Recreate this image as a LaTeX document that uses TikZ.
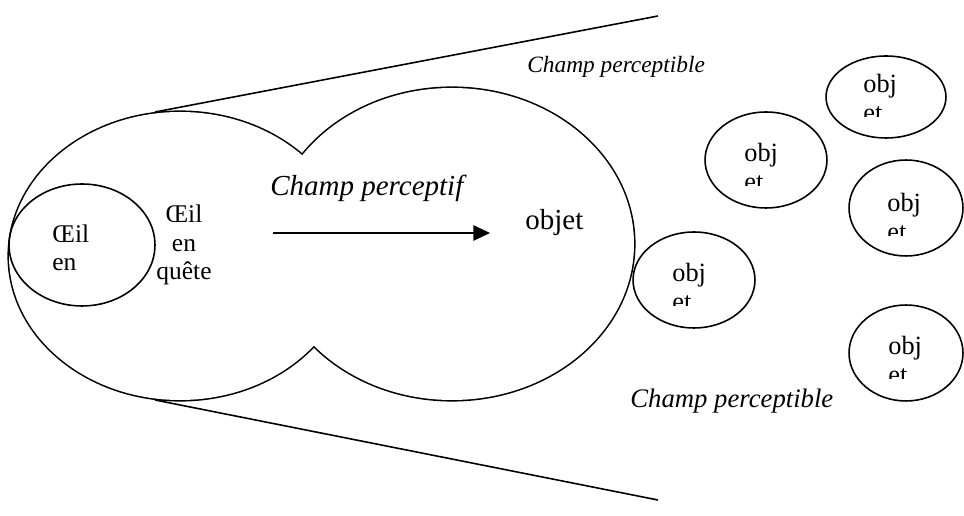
\documentclass[tikz,border=0pt]{standalone}
\usepackage{fontspec}
\setmainfont{Liberation Serif}
\usepackage{tikz}
\usetikzlibrary{positioning,shapes.geometric,arrows.meta}

\tikzset{
    thickrim/.style={line width=1.8pt},
    rim/.style={line width=0.9pt},
    objring/.style={draw,ellipse,rim,inner sep=0pt},
    objtext/.style={inner sep=0pt,font=\fontsize{15}{17}\selectfont},
    fieldtext/.style={inner sep=0pt,font=\itshape\fontsize{16.5}{19}\selectfont},
}

\begin{document}
\begin{tikzpicture}[x=0.02cm, y=-0.02cm]
    \useasboundingbox (0,0) rectangle (964,516);

    \coordinate (fovtop-a) at (155,112);
    \coordinate (fovtop-b) at (658,16);
    \coordinate (fovbot-a) at (155,400);
    \coordinate (fovbot-b) at (658,500);
    \draw[rim] (fovtop-a) -- (fovtop-b);
    \draw[rim] (fovbot-a) -- (fovbot-b);

    \draw[thickrim] (180,256) ellipse [x radius=171, y radius=144];
    \draw[thickrim] (452,244) ellipse [x radius=182, y radius=156];
    \fill[white] (180,256) ellipse [x radius=171, y radius=144];
    \fill[white] (452,244) ellipse [x radius=182, y radius=156];

    \node[objring, minimum width=2.92cm, minimum height=2.44cm] (eye) at (82,245) {};
    \node[inner sep=0pt, anchor=base west, font=\fontsize{14.5}{17}\selectfont] (eyetxt-a) at (52,243) {Œil};
    \node[inner sep=0pt, anchor=base west, font=\fontsize{14.5}{17}\selectfont] (eyetxt-b) at (52,271) {en};
    \node[inner sep=0pt, anchor=base, align=center, font=\fontsize{14.5}{16.5}\selectfont] (seek) at (184,280) {Œil\\en\\quête};

    \node[fieldtext, anchor=base west] (field) at (270,196) {Champ perceptif};
    \coordinate (arr-a) at (273,233);
    \coordinate (arr-b) at (490,233);
    \draw[rim, -{Triangle[length=9.5pt, width=8.8pt]}] (arr-a) -- (arr-b);
    \node[inner sep=0pt, anchor=base west, font=\fontsize{16.5}{19}\selectfont] (target) at (525,230) {objet};

    \node[fieldtext, anchor=base west, font=\itshape\fontsize{13.3}{15}\selectfont] (wide-top) at (527,73) {Champ perceptible};
    \node[fieldtext, anchor=base west, font=\itshape\fontsize{15.2}{17}\selectfont] (wide-bot) at (630,408) {Champ perceptible};

    \foreach \nm/\cx/\cy/\rx/\ry/\ox/\oy in {a/886/97/60/41/863/93, b/766/160/61/48/744/162, c/906/208/57/48/887/212, d/694/280/61/48/672/282, e/906/353/57/48/888/355}{
        \node[objring, minimum width=\rx*0.04cm, minimum height=\ry*0.04cm] (obj-\nm) at (\cx,\cy) {};
        \node[objtext, anchor=base west] (objlbl-\nm) at (\ox,\oy) {obj};
        \begin{scope}
            \clip (\ox-5,\oy+5) rectangle (\ox+40,\oy+24);
            \node[objtext, anchor=base west] (objcut-\nm) at (\ox,\oy+29) {et};
        \end{scope}
    }
\end{tikzpicture}
\end{document}
